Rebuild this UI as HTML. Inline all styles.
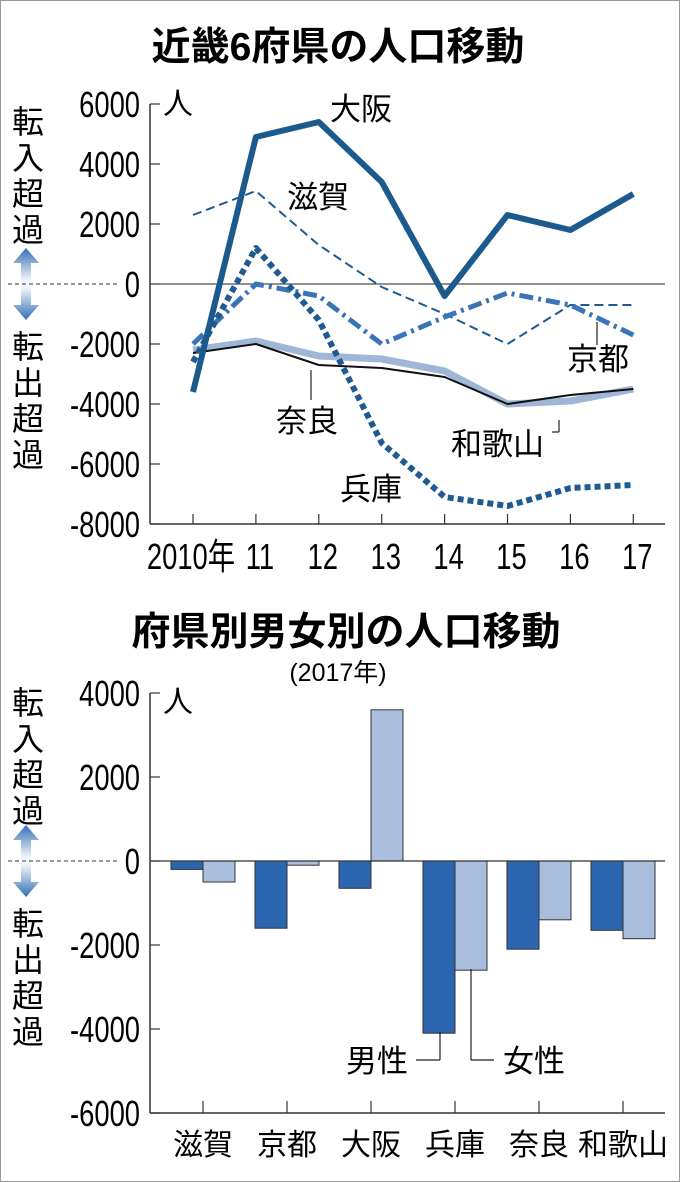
<!DOCTYPE html>
<html><head><meta charset="utf-8">
<style>
html,body{margin:0;padding:0;background:#fff;}
body{width:680px;height:1182px;overflow:hidden;}
svg{display:block;font-family:"Liberation Sans","Noto Sans CJK JP",sans-serif;}
</style></head>
<body>
<svg id="c" width="680" height="1182" viewBox="0 0 680 1182" xmlns="http://www.w3.org/2000/svg">
<defs>
<linearGradient id="ag" x1="0" y1="0" x2="0" y2="1">
<stop offset="0" stop-color="#2f6fb5"/><stop offset="0.4" stop-color="#dfe8f4"/><stop offset="0.5" stop-color="#ffffff"/><stop offset="0.6" stop-color="#dfe8f4"/><stop offset="1" stop-color="#2f6fb5"/>
</linearGradient>
</defs>
<rect x="0.5" y="0.5" width="679" height="1181" fill="#fff" stroke="#999"/>
<text x="338" y="60" font-size="39" font-weight="bold" text-anchor="middle">近畿6府県の人口移動</text>
<text x="346" y="645" font-size="39" font-weight="bold" text-anchor="middle">府県別男女別の人口移動</text>
<text x="338" y="681" font-size="25" text-anchor="middle">(2017年)</text>
<g id="top"></g>
<g id="bot"></g>
</svg>
<script>
// ---- line chart data ----
const years = ["2010年","11","12","13","14","15","16","17"];
const yTicksTop = [6000,4000,2000,0,-2000,-4000,-6000,-8000];
const osaka = [-3600,4900,5400,3400,-400,2300,1800,3000];
const shiga = [2300,3100,1300,-100,-1000,-2000,-700,-700];
const kyoto = [-2000,0,-400,-2000,-1100,-300,-700,-1700];
const hyogo = [-2600,1200,-1200,-5300,-7100,-7400,-6800,-6700];
const nara = [-2300,-2000,-2700,-2800,-3100,-4000,-3700,-3500];
const wakayama = [-2200,-1900,-2400,-2500,-2900,-4000,-3900,-3500];
// ---- bar chart data ----
const prefs = ["滋賀","京都","大阪","兵庫","奈良","和歌山"];
const male = [-200,-1600,-650,-4100,-2100,-1650];
const female = [-500,-100,3600,-2600,-1400,-1850];
const yTicksBot = [4000,2000,0,-2000,-4000,-6000];

const NS="http://www.w3.org/2000/svg";
function mk(p,tag,at,txt){const e=document.createElementNS(NS,tag);for(const k in at)e.setAttribute(k,at[k]);if(txt!==undefined)e.textContent=txt;p.appendChild(e);return e;}
function ctext(p,x,y,s,anchor,size){return mk(p,'text',{transform:`translate(${x},${y}) scale(0.76,1)`,x:0,y:0,'font-size':size||36,'text-anchor':anchor},s);}

// top axes
const tx=i=>193+i*62.9;
const ty=v=>284-v*0.03;
const T=document.getElementById('top');
let a=mk(T,'line',{x1:150,y1:ty(6000),x2:150,y2:ty(-8000),stroke:'#333','stroke-width':1.5});


a=mk(T,'line',{x1:150,y1:ty(-8000),x2:665,y2:ty(-8000),stroke:'#333','stroke-width':1.5});


a=mk(T,'line',{x1:150,y1:ty(0),x2:665,y2:ty(0),stroke:'#222','stroke-width':1});


yTicksTop.forEach(v=>{
  let l=mk(T,'line',{x1:150,y1:ty(v),x2:160,y2:ty(v),stroke:'#333','stroke-width':1.2});
  
  
  let t=ctext(T,140,ty(v)+13,String(v),'end');
  
  
});
years.forEach((y,i)=>{
  let l=mk(T,'line',{x1:tx(i),y1:ty(-8000),x2:tx(i),y2:ty(-8000)-10,stroke:'#333','stroke-width':1.2});
  
  
  let t=ctext(T,i==0?tx(i)-2:tx(i)+4,569,y,'middle');
  
  
});
const pts=d=>d.map((v,i)=>tx(i)+','+ty(v)).join(' ');
function series(d,name,st){const p=mk(T,'polyline',Object.assign({points:pts(d),fill:'none','stroke-linejoin':'round'},st));

}
series(wakayama,'line-wakayama',{stroke:'#9fb6d6','stroke-width':7});
series(nara,'line-nara',{stroke:'#111','stroke-width':2});
series(shiga,'line-shiga',{stroke:'#1f5a90','stroke-width':2,'stroke-dasharray':'9 5'});
series(kyoto,'line-kyoto',{stroke:'#3a74b6','stroke-width':5,'stroke-dasharray':'14 5 3 5'});
series(hyogo,'line-hyogo',{stroke:'#1f5a90','stroke-width':6,'stroke-dasharray':'6 4'});
series(osaka,'line-osaka',{stroke:'#1c5a8e','stroke-width':6});
// top labels
[["人",163,114,30],["大阪",330,120,31],["滋賀",287,208,31],["京都",567,370,31],["奈良",276,432,31],["和歌山",451,455,31],["兵庫",340,500,31]].forEach(([s,x,y,f])=>{
  let t=mk(T,'text',{x:x,y:y,'font-size':f},s);
  
  
});
[[311,370,311,400],[597,322,597,345],[559,420,559,432],[552,432,559,432]].forEach(([a1,b1,a2,b2])=>{
  let l=mk(T,'line',{x1:a1,y1:b1,x2:a2,y2:b2,stroke:'#222','stroke-width':1.2});
  
  
});
function sideLabels(g,y0,gap){
  let t=mk(g,'text',{x:28,y:y0,'font-size':32,'text-anchor':'middle'});
  
  
  "転入超過".split('').forEach((c,i)=>mk(t,'tspan',{x:28,y:y0+i*36},c));
  const zy=y0+gap;
  let ar=mk(g,'path',{d:`M26 ${zy-36} L39 ${zy-21} L31 ${zy-21} L31 ${zy+21} L39 ${zy+21} L26 ${zy+36} L13 ${zy+21} L21 ${zy+21} L21 ${zy-21} L13 ${zy-21} Z`,fill:'url(#ag)'});
  
  
  let d=mk(g,'line',{x1:8,y1:zy,x2:118,y2:zy,stroke:'#333','stroke-width':1,'stroke-dasharray':'4 3'});
  
  
  let t2=mk(g,'text',{x:28,y:zy+74,'font-size':32,'text-anchor':'middle'});
  
  
  "転出超過".split('').forEach((c,i)=>mk(t2,'tspan',{x:28,y:zy+74+i*36},c));
}
sideLabels(T,133,151);

// bottom chart
const B=document.getElementById('bot');
const by=v=>861-v*0.042;
const bx=i=>203+i*84;
a=mk(B,'line',{x1:150,y1:by(4000),x2:150,y2:by(-6000),stroke:'#333','stroke-width':1.5});


a=mk(B,'line',{x1:150,y1:by(-6000),x2:665,y2:by(-6000),stroke:'#333','stroke-width':1.5});


yTicksBot.forEach(v=>{
  let l=mk(B,'line',{x1:150,y1:by(v),x2:160,y2:by(v),stroke:'#333','stroke-width':1.2});
  
  
  let t=ctext(B,140,by(v)+13,String(v),'end');
  
  
});
prefs.forEach((p,i)=>{
  let l=mk(B,'line',{x1:bx(i),y1:by(-6000),x2:bx(i),y2:by(-6000)-12,stroke:'#333','stroke-width':1.2});
  
  
  let t=mk(B,'text',{x:bx(i),y:1155,'font-size':30,'text-anchor':'middle'},p);
  
  
  const y0=by(0);
  let m=mk(B,'rect',{x:bx(i)-32,y:Math.min(y0,by(male[i])),width:32,height:Math.abs(by(male[i])-y0),fill:'#2c66b0',stroke:'#333','stroke-width':1});
  
  
  let f=mk(B,'rect',{x:bx(i),y:Math.min(y0,by(female[i])),width:32,height:Math.abs(by(female[i])-y0),fill:'#a9bedc',stroke:'#333','stroke-width':1});
  
  
});
a=mk(B,'line',{x1:150,y1:by(0),x2:665,y2:by(0),stroke:'#333','stroke-width':1.2});


[["人",163,712,30],["男性",346,1072,31],["女性",503,1072,31]].forEach(([s,x,y,f])=>{
  let t=mk(B,'text',{x:x,y:y,'font-size':f},s);
  
  
});
[[440,1032,440,1060],[416,1060,440,1060],[471,969,471,1060],[471,1060,494,1060]].forEach(([a1,b1,a2,b2])=>{
  let l=mk(B,'line',{x1:a1,y1:b1,x2:a2,y2:b2,stroke:'#222','stroke-width':1.2});
  
  
});
sideLabels(B,714,147);
</script>
</body></html>
